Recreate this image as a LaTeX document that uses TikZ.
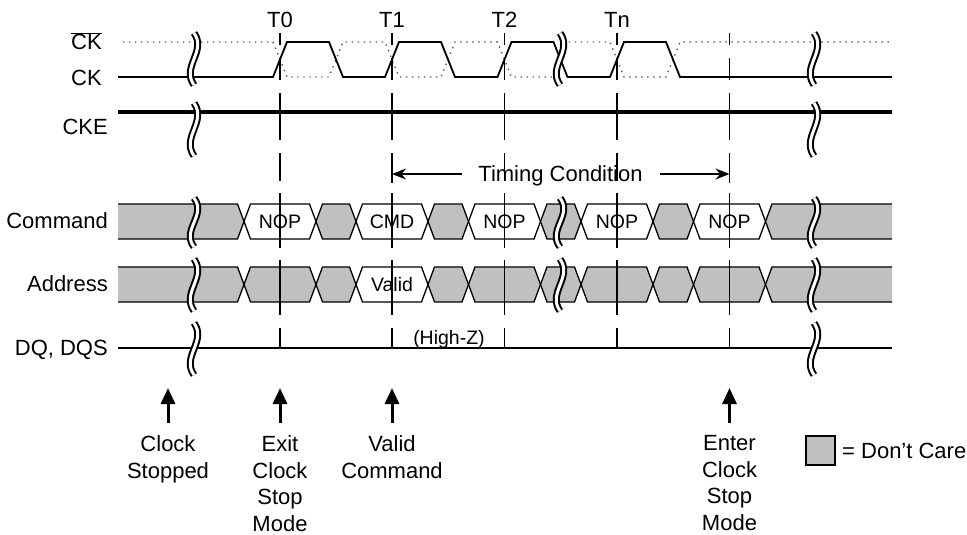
\documentclass[tikz,border=0pt]{standalone}
\usepackage{fontspec}
\setmainfont{Liberation Sans}
\usetikzlibrary{arrows.meta}
\definecolor{dcgray}{RGB}{192,192,192}
\tikzset{
  lbl/.style={inner sep=0pt, font=\fontsize{22}{27}\selectfont},
  evlbl/.style={inner sep=0pt, font=\fontsize{22}{26.5}\selectfont},
  buslbl/.style={inner sep=0pt, font=\fontsize{19.5}{23}\selectfont},
  busline/.style={line width=1.3pt, line join=miter, draw=black},
  clk/.style={line width=1.8pt, line join=miter},
  clkdot/.style={line width=1.4pt, dash pattern=on 1.4pt off 4.6pt, draw=black!65},
  guide/.style={line width=1.3pt},
  brkouter/.style={line width=7pt, black},
  brkinner/.style={line width=3pt, white},
  uparrow/.style={line width=3pt, -{Triangle[length=16pt,width=14pt]}},
  tcarrow/.style={line width=1.5pt, -{Stealth[length=14pt,width=11pt]}},
}
\newcommand\busseg[5]{%
  \filldraw[busline, fill=#5] (#1,{(#3+#4)/2}) -- ({#1+6.5},#3) -- ({#2-6.5},#3) -- (#2,{(#3+#4)/2}) -- ({#2-6.5},#4) -- ({#1+6.5},#4) -- cycle;}
\newcommand\busstart[3]{%
  \fill[dcgray] (118,#2) -- ({#1-6.5},#2) -- (#1,{(#2+#3)/2}) -- ({#1-6.5},#3) -- (118,#3) -- cycle;
  \draw[busline] (118,#2) -- ({#1-6.5},#2) -- (#1,{(#2+#3)/2}) -- ({#1-6.5},#3) -- (118,#3);}
\newcommand\busend[3]{%
  \fill[dcgray] (892,#2) -- ({#1+6.5},#2) -- (#1,{(#2+#3)/2}) -- ({#1+6.5},#3) -- (892,#3) -- cycle;
  \draw[busline] (892,#2) -- ({#1+6.5},#2) -- (#1,{(#2+#3)/2}) -- ({#1+6.5},#3) -- (892,#3);}
\newcommand\brkmark[3]{%
  \draw[brkouter] (#1,#2) .. controls ({#1+13},{#2+0.35*(#3-#2)}) and ({#1-13},{#2+0.65*(#3-#2)}) .. (#1,#3);
  \draw[brkinner] (#1,#2) .. controls ({#1+13},{#2+0.35*(#3-#2)}) and ({#1-13},{#2+0.65*(#3-#2)}) .. (#1,#3);}
\def\cmdtop{204}\def\cmdbot{239}
\def\adrtop{267}\def\adrbot{302}
\begin{document}
\begin{tikzpicture}[x=1pt,y=-1pt]
\useasboundingbox (0,0) rectangle (967,535);

% ---- Command bus
\busstart{244}{\cmdtop}{\cmdbot}
\busseg{244}{316}{\cmdtop}{\cmdbot}{white}
\busseg{316}{356}{\cmdtop}{\cmdbot}{dcgray}
\busseg{356}{428}{\cmdtop}{\cmdbot}{white}
\busseg{428}{468.5}{\cmdtop}{\cmdbot}{dcgray}
\busseg{468.5}{540.5}{\cmdtop}{\cmdbot}{white}
\busseg{540.5}{581}{\cmdtop}{\cmdbot}{dcgray}
\busseg{581}{653}{\cmdtop}{\cmdbot}{white}
\busseg{653}{693.5}{\cmdtop}{\cmdbot}{dcgray}
\busseg{693.5}{765.5}{\cmdtop}{\cmdbot}{white}
\busend{765.5}{\cmdtop}{\cmdbot}

% ---- Address bus
\busstart{244}{\adrtop}{\adrbot}
\busseg{244}{316}{\adrtop}{\adrbot}{dcgray}
\busseg{316}{356}{\adrtop}{\adrbot}{dcgray}
\busseg{356}{428}{\adrtop}{\adrbot}{white}
\busseg{428}{468.5}{\adrtop}{\adrbot}{dcgray}
\busseg{468.5}{540.5}{\adrtop}{\adrbot}{dcgray}
\busseg{540.5}{581}{\adrtop}{\adrbot}{dcgray}
\busseg{581}{653}{\adrtop}{\adrbot}{dcgray}
\busseg{653}{693.5}{\adrtop}{\adrbot}{dcgray}
\busseg{693.5}{765.5}{\adrtop}{\adrbot}{dcgray}
\busend{765.5}{\adrtop}{\adrbot}

% ---- bus texts
\node[buslbl, anchor=base] (nop0) at (280,228.5) {NOP};
\node[buslbl, anchor=base] (cmd1) at (392,228.5) {CMD};
\node[buslbl, anchor=base] (nop2) at (504.5,228.5) {NOP};
\node[buslbl, anchor=base] (nopn) at (617,228.5) {NOP};
\node[buslbl, anchor=base] (nope) at (729.5,228.5) {NOP};
\node[buslbl, anchor=base] (valid) at (392,291.5) {Valid};
\node[buslbl, anchor=base] (highz) at (449,344) {(High-Z)};

% ---- CKE and DQ
\draw[line width=3.5pt] (118,112) -- (892,112);
\draw[line width=1.5pt] (118,348) -- (892,348);

% ---- clocks
\draw[clkdot] (123,42) -- (273,42) -- (287,77) -- (329,77) -- (343,42) -- (385,42) -- (399,77) -- (441,77) -- (455,42) -- (497.5,42) -- (511.5,77) -- (553.5,77) -- (567.5,42) -- (610,42) -- (624,77) -- (666,77) -- (680,42) -- (892,42);
\draw[clk] (118,77) -- (273,77) -- (287,42) -- (329,42) -- (343,77) -- (385,77) -- (399,42) -- (441,42) -- (455,77) -- (497.5,77) -- (511.5,42) -- (553.5,42) -- (567.5,77) -- (610,77) -- (624,42) -- (666,42) -- (680,77) -- (892,77);

% ---- guides
\foreach \x in {280,392,504.5,617,729.5}
  \foreach \a/\b in {33/45,58/80,93/140,153/181,193/248,260/315,328/347}
    \draw[guide] (\x,\a) -- (\x,\b);

% ---- time labels
\node[lbl, anchor=base] (t0) at (280,28) {T0};
\node[lbl, anchor=base] (t1) at (392,28) {T1};
\node[lbl, anchor=base] (t2) at (504.5,28) {T2};
\node[lbl, anchor=base] (tn) at (617,28) {Tn};

% ---- signal labels
\node[lbl, anchor=base east] (lckb) at (102,50) {$\overline{\mbox{CK}}$};
\node[lbl, anchor=base east] (lck) at (102,85) {CK};
\node[lbl, anchor=base east] (lcke) at (108,135) {CKE};
\node[lbl, anchor=base east] (lcmd) at (108,228.5) {Command};
\node[lbl, anchor=base east] (ladr) at (108,291.5) {Address};
\node[lbl, anchor=base east] (ldq) at (108,355) {DQ, DQS};

% ---- timing condition
\node[lbl, anchor=base] (tc) at (560.5,181) {Timing Condition};
\coordinate (tcL) at (392,174);
\coordinate (tcR) at (729.5,174);
\coordinate (tcLs) at (462,174);
\coordinate (tcRs) at (660,174);
\draw[tcarrow] (tcLs) -- (tcL);
\draw[tcarrow] (tcRs) -- (tcR);
\draw[line width=1.5pt] (392,162) -- (392,183);
\draw[line width=1.5pt] (729.5,162) -- (729.5,183);

% ---- break marks
\foreach \x in {194,814}{
  \brkmark{\x}{33}{85}
  \brkmark{\x}{103}{156}
  \brkmark{\x}{198}{247}
  \brkmark{\x}{259}{311}
  \brkmark{\x}{323}{375}
}
\brkmark{560}{33}{85}
\brkmark{560}{198}{247}
\brkmark{560}{259}{311}

% ---- bottom arrows and labels
\coordinate (a1b) at (168,423); \coordinate (a1t) at (168,388);
\coordinate (a2b) at (280,423); \coordinate (a2t) at (280,388);
\coordinate (a3b) at (392,423); \coordinate (a3t) at (392,388);
\coordinate (a4b) at (729.5,423); \coordinate (a4t) at (729.5,388);
\draw[uparrow] (a1b) -- (a1t);
\draw[uparrow] (a2b) -- (a2t);
\draw[uparrow] (a3b) -- (a3t);
\draw[uparrow] (a4b) -- (a4t);
\node[evlbl, align=center, anchor=north] (ev1) at (168,435.5) {Clock\\Stopped};
\node[evlbl, align=center, anchor=north] (ev2) at (280,435.5) {Exit\\Clock\\Stop\\Mode};
\node[evlbl, align=center, anchor=north] (ev3) at (392,435.5) {Valid\\Command};
\node[evlbl, align=center, anchor=north] (ev4) at (729.5,435.5) {Enter\\Clock\\Stop\\Mode};

% ---- legend
\draw[line width=2.5pt, fill=dcgray] (806,436) rectangle (835,465);
\node[lbl, anchor=base west] (leg) at (842,458) {= Don't Care};
\end{tikzpicture}
\end{document}
